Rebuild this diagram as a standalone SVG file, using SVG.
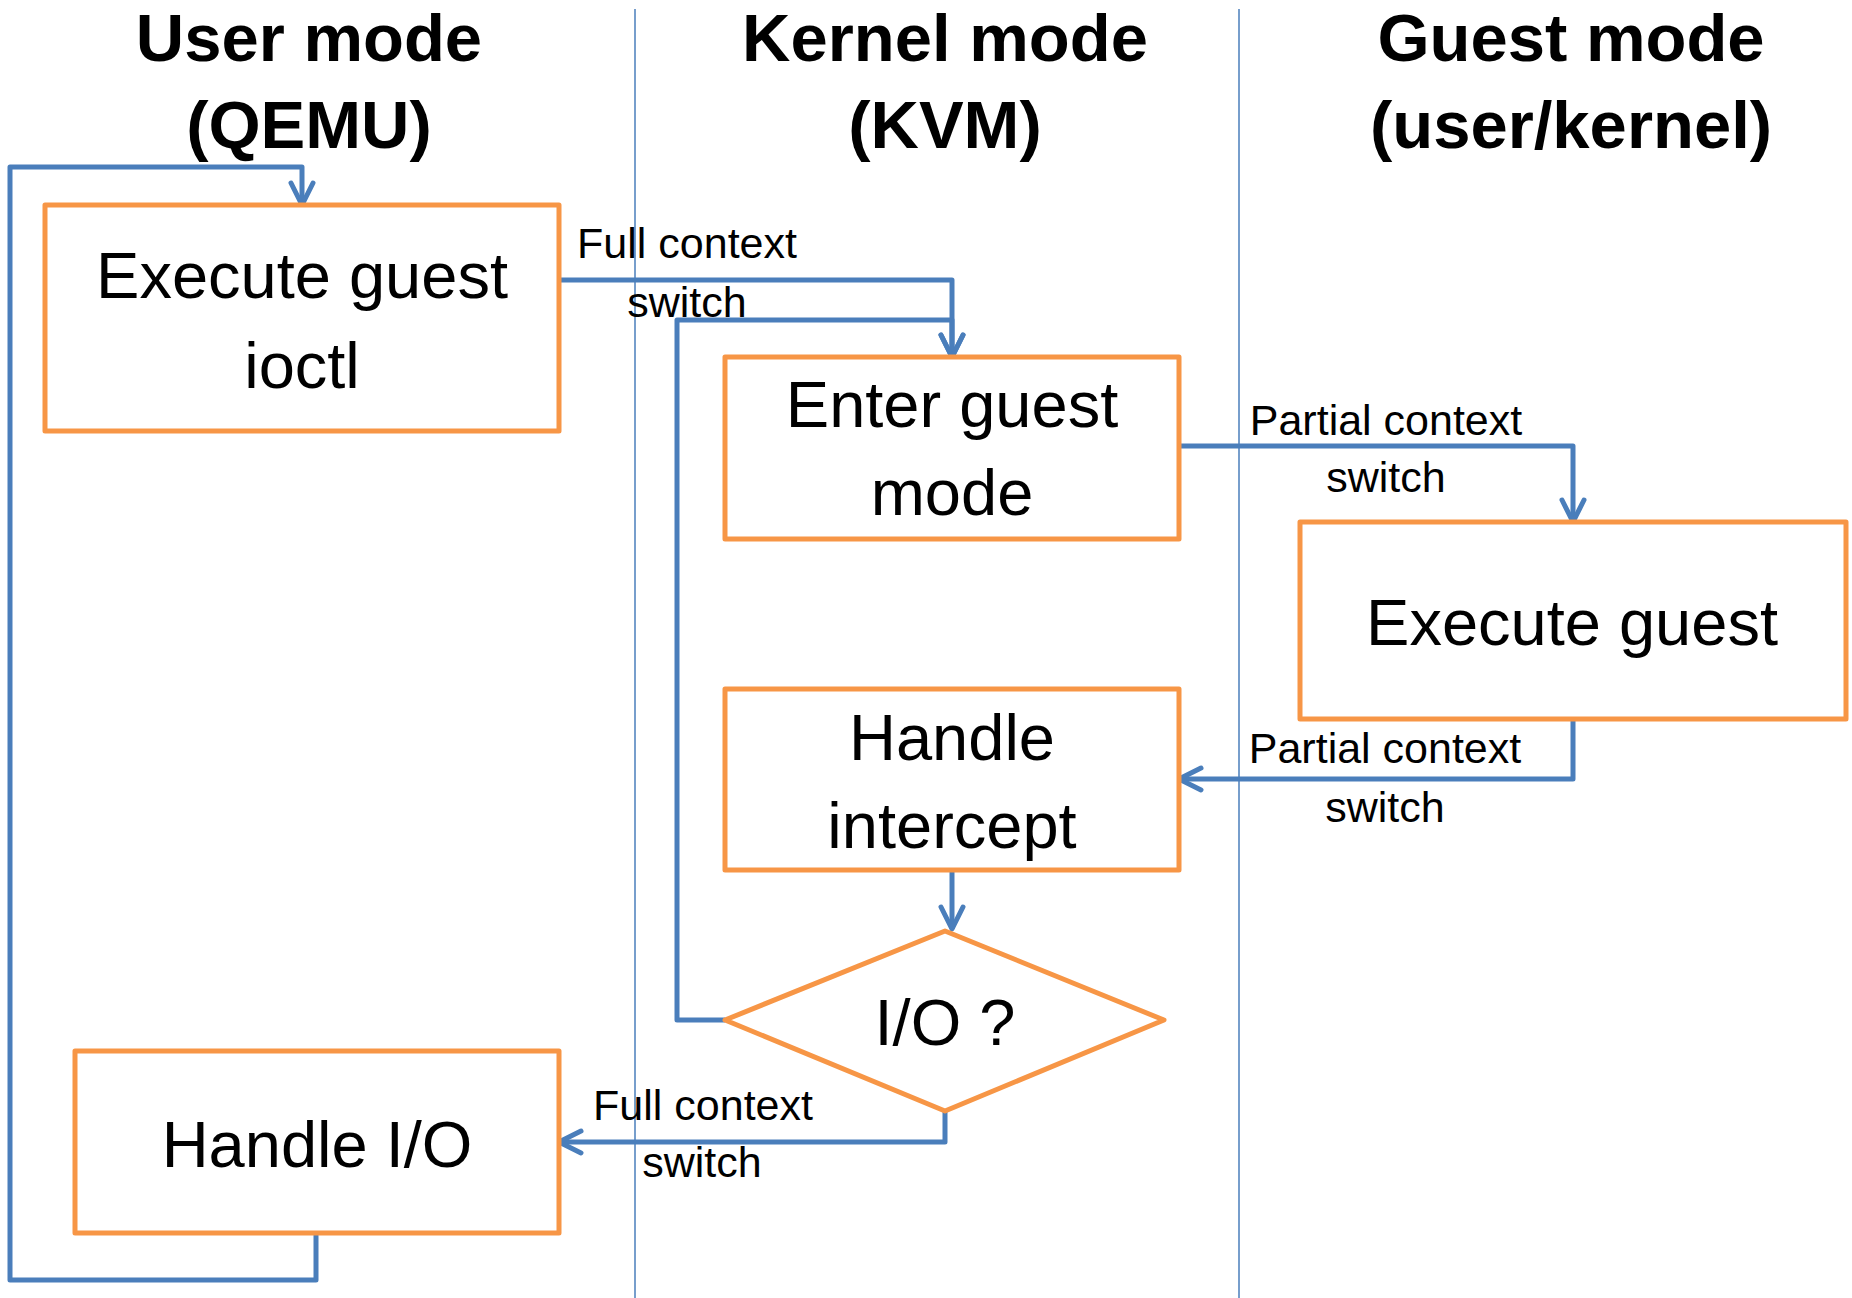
<svg xmlns="http://www.w3.org/2000/svg" width="1852" height="1298" viewBox="0 0 1852 1298">
<style>
.node{fill:#FFFFFF;stroke:#F79646;stroke-width:5;stroke-linejoin:round}
.conn{fill:none;stroke:#4A7EBB;stroke-width:5;stroke-linejoin:round}
.sep{stroke:#4A7EBB;stroke-width:1.5}
.hdr{font-family:"Liberation Sans",Arial,sans-serif;font-weight:bold;font-size:67px;fill:#000;text-anchor:middle}
.big{font-family:"Liberation Sans",Arial,sans-serif;font-size:65px;fill:#000;text-anchor:middle}
.lbl{font-family:"Liberation Sans",Arial,sans-serif;font-size:43px;fill:#000;text-anchor:middle}
</style>
<defs>
<marker id="arr" viewBox="-30 -16 34 32" markerWidth="34" markerHeight="32" refX="0" refY="0" markerUnits="userSpaceOnUse" orient="auto" overflow="visible">
<path d="M-22,-11 L0,0 L-22,11" fill="none" stroke="#4A7EBB" stroke-width="5" stroke-linecap="round" stroke-linejoin="round"/>
</marker>
</defs>
<rect x="0" y="0" width="1852" height="1298" fill="#FFFFFF"/>
<g id="lanes">
<line class="sep" x1="635" y1="9" x2="635" y2="1298"/>
<line class="sep" x1="1239" y1="9" x2="1239" y2="1298"/>
<text class="hdr" x="309" y="61">User mode</text>
<text class="hdr" x="309" y="148">(QEMU)</text>
<text class="hdr" x="945" y="61">Kernel mode</text>
<text class="hdr" x="945" y="148">(KVM)</text>
<text class="hdr" x="1571" y="61">Guest mode</text>
<text class="hdr" x="1571" y="148">(user/kernel)</text>
</g>
<g id="connectors">
<path class="conn" d="M316,1233 V1280 H10 V167 H302 V205" marker-end="url(#arr)"/>
<path class="conn" d="M559,280 H952 V357" marker-end="url(#arr)"/>
<path class="conn" d="M725,1020 H677 V320 H952 V357" marker-end="url(#arr)"/>
<path class="conn" d="M1179,446 H1573 V522" marker-end="url(#arr)"/>
<path class="conn" d="M1573,719 V779 H1179" marker-end="url(#arr)"/>
<path class="conn" d="M952,870 V929" marker-end="url(#arr)"/>
<path class="conn" d="M945,1111 V1142 H559" marker-end="url(#arr)"/>
<text class="lbl" x="687" y="258">Full context</text>
<text class="lbl" x="687" y="317">switch</text>
<text class="lbl" x="1386" y="435">Partial context</text>
<text class="lbl" x="1386" y="492">switch</text>
<text class="lbl" x="1385" y="763">Partial context</text>
<text class="lbl" x="1385" y="822">switch</text>
<text class="lbl" x="703" y="1120">Full context</text>
<text class="lbl" x="702" y="1177">switch</text>
</g>
<g id="exec-ioctl">
<rect class="node" x="45" y="205" width="514" height="226"/>
<text class="big" x="302" y="298">Execute guest</text>
<text class="big" x="302" y="388">ioctl</text>
</g>
<g id="enter-guest">
<rect class="node" x="725" y="357" width="454" height="182"/>
<text class="big" x="952" y="427">Enter guest</text>
<text class="big" x="952" y="515">mode</text>
</g>
<g id="exec-guest">
<rect class="node" x="1300" y="522" width="546" height="197"/>
<text class="big" x="1572" y="645">Execute guest</text>
</g>
<g id="handle-intercept">
<rect class="node" x="725" y="689" width="454" height="181"/>
<text class="big" x="952" y="760">Handle</text>
<text class="big" x="952" y="848">intercept</text>
</g>
<g id="io-decision">
<polygon class="node" points="945,931 1164,1020 945,1111 725,1020"/>
<text class="big" x="945" y="1045">I/O ?</text>
</g>
<g id="handle-io">
<rect class="node" x="75" y="1051" width="484" height="182"/>
<text class="big" x="317" y="1167">Handle I/O</text>
</g>
</svg>
